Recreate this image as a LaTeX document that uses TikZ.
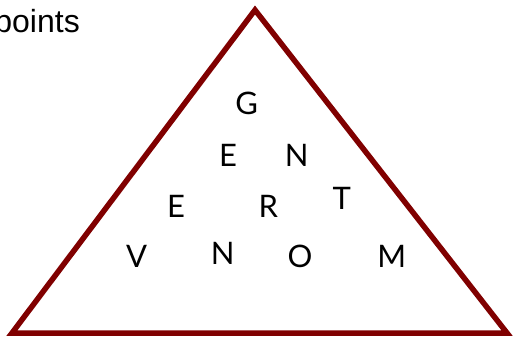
\documentclass[tikz,border=0pt]{standalone}
\usepackage{fontspec}
\setmainfont{Liberation Sans}
\newfontfamily\letterfont{Lato}
\definecolor{tri}{HTML}{800000}
\begin{document}
\begin{tikzpicture}[x=1pt,y=-1pt,
  letter/.style={font=\letterfont\fontsize{31}{31}\selectfont, inner sep=0pt, anchor=center},
  caption/.style={font=\fontsize{32}{32}\selectfont, inner sep=0pt, anchor=base east}]
\useasboundingbox (0,0) rectangle (514,338);
\coordinate (apex) at (255,10);
\coordinate (bl) at (12,333);
\coordinate (br) at (507,333);
\draw[tri, line width=5.5pt, line join=miter] (apex) -- (br) -- (bl) -- cycle;
\node[caption] (cap) at (80,32) {points};
\node[letter] (g) at (246.7,103.3) {G};
\node[letter] (e1) at (228,155) {E};
\node[letter] (n1) at (296.7,155) {N};
\node[letter] (e2) at (176,206) {E};
\node[letter] (r) at (268.3,206) {R};
\node[letter] (t) at (341.7,198.3) {T};
\node[letter] (v) at (136.7,256.7) {V};
\node[letter] (n2) at (222.7,253.3) {N};
\node[letter] (o) at (300,256.7) {O};
\node[letter] (m) at (391.7,256.7) {M};
\end{tikzpicture}
\end{document}
